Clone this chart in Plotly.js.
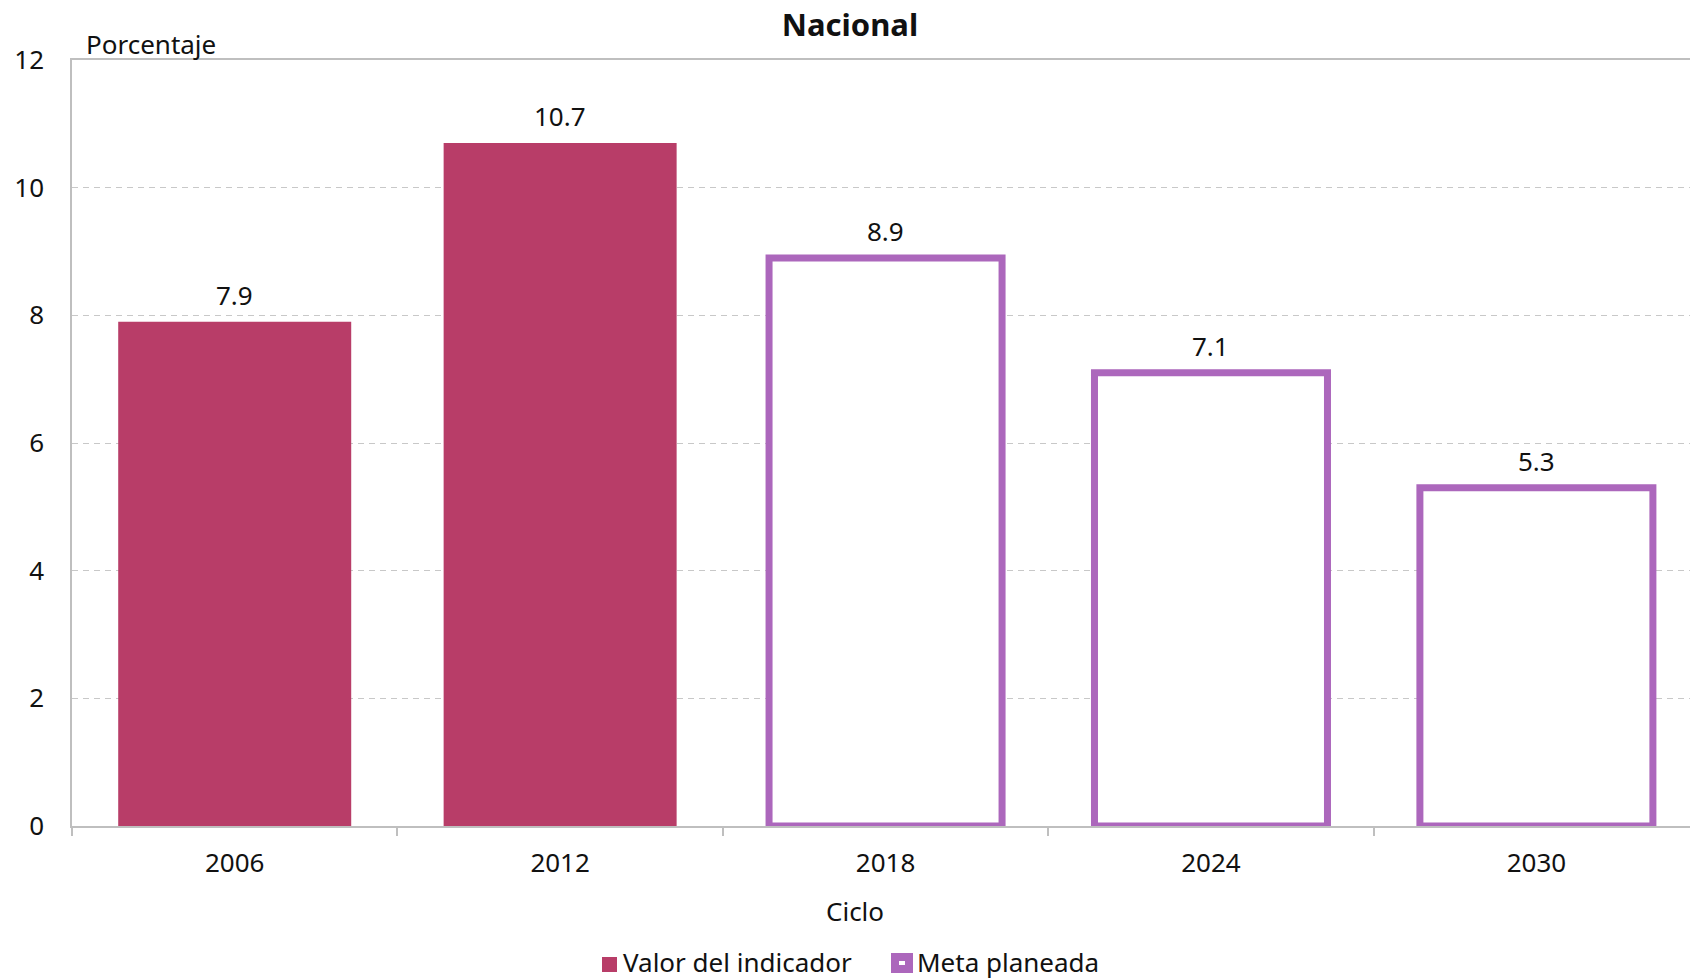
<!DOCTYPE html>
<html>
<head>
<meta charset="utf-8">
<script src="https://cdn.plot.ly/plotly-3.0.1.min.js"></script>
<style>
html,body{margin:0;padding:0;background:#fff;overflow:hidden;}
#chart{width:1690px;height:979px;}
</style>
</head>
<body>
<div id="chart"></div>
<script>
const categories = ['2006', '2012', '2018', '2024', '2030'];
const valorIndicador = [7.9, 10.7, null, null, null];
const metaPlaneada = [null, null, 8.9, 7.1, 5.3];
const yTicks = [0, 2, 4, 6, 8, 10, 12];
const seriesNames = ['Valor del indicador', 'Meta planeada'];

const FONT = 'Noto Sans, Open Sans, sans-serif';
const FS = 26;
const TXT = '#111111';
const colValor = '#B83D68';
const colMeta = '#AC67BC';

// layout geometry (pixels)
const W = 1690, H = 979, ML = 72, MT = 60, MB = 153, MR = 0;
const PW = W - ML - MR, PH = H - MT - MB;
const px = x => (x - ML) / PW;        // pixel x -> paper x
const py = y => (H - MB - y) / PH;    // pixel y -> paper y

const traces = [
  {
    type: 'bar', name: seriesNames[0],
    x: categories, y: valorIndicador,
    width: 0.716,
    marker: {color: colValor, line: {width: 0}},
    hoverinfo: 'x+y'
  },
  {
    type: 'bar', name: seriesNames[1],
    x: categories, y: metaPlaneada,
    width: 0.716,
    marker: {color: '#ffffff', line: {color: colMeta, width: 7}},
    hoverinfo: 'x+y'
  }
];

const annotations = [];
[valorIndicador, metaPlaneada].forEach(arr => {
  arr.forEach((v, i) => {
    if (v === null) return;
    annotations.push({
      x: i, y: v, xref: 'x', yref: 'y',
      text: v.toFixed(1), showarrow: false,
      xanchor: 'center', yanchor: 'middle', yshift: 27,
      font: {family: FONT, size: FS, color: TXT}
    });
  });
});
annotations.push({
  xref: 'paper', yref: 'paper', x: px(84), y: py(44), xanchor: 'left', yanchor: 'middle',
  text: 'Porcentaje', showarrow: false, font: {family: FONT, size: FS, color: TXT}
});
annotations.push({
  xref: 'paper', yref: 'paper', x: px(855), y: py(911), xanchor: 'center', yanchor: 'middle',
  text: 'Ciclo', showarrow: false, font: {family: FONT, size: FS, color: TXT}
});
// legend labels
annotations.push({
  xref: 'paper', yref: 'paper', x: px(621), y: py(962), xanchor: 'left', yanchor: 'middle',
  text: seriesNames[0], showarrow: false, font: {family: FONT, size: FS, color: TXT}
});
annotations.push({
  xref: 'paper', yref: 'paper', x: px(915), y: py(962), xanchor: 'left', yanchor: 'middle',
  text: seriesNames[1], showarrow: false, font: {family: FONT, size: FS, color: TXT}
});

const shapes = [
  {type: 'rect', xref: 'paper', yref: 'paper', x0: px(602), x1: px(617), y0: py(972), y1: py(957),
   fillcolor: colValor, line: {width: 0}},
  {type: 'rect', xref: 'paper', yref: 'paper', x0: px(895), x1: px(909), y0: py(969), y1: py(957),
   fillcolor: '#ffffff', line: {color: colMeta, width: 8}}
];

const layout = {
  width: W, height: H,
  margin: {l: ML, r: MR, t: MT, b: MB},
  paper_bgcolor: '#fff', plot_bgcolor: '#fff',
  font: {family: FONT, size: FS, color: TXT},
  title: {
    text: '<b>Nacional</b>', x: 850 / W, xref: 'container', xanchor: 'center',
    y: 1 - 25 / H, yref: 'container', yanchor: 'middle',
    font: {family: FONT, size: 31, color: TXT}
  },
  barmode: 'overlay',
  showlegend: false,
  xaxis: {
    type: 'category', range: [-0.5, 4.472],
    showline: true, linecolor: '#bfbfbf', linewidth: 1.5, mirror: true,
    ticks: 'outside', tickson: 'boundaries', ticklen: 8, tickcolor: '#bfbfbf', tickwidth: 1.5,
    showgrid: false, zeroline: false,
    tickfont: {family: FONT, size: FS, color: TXT},
    ticklabelstandoff: 13
  },
  yaxis: {
    range: [0, 12], tickvals: yTicks, ticktext: yTicks.map(String),
    showline: true, linecolor: '#bfbfbf', linewidth: 1.5,
    ticks: '', showgrid: true, gridcolor: '#c8c8c8', gridwidth: 1.3, griddash: '6px,5px',
    zeroline: false,
    tickfont: {family: FONT, size: FS, color: TXT},
    ticklabelstandoff: 21
  },
  annotations: annotations,
  shapes: shapes
};

Plotly.newPlot('chart', traces, layout, {displayModeBar: false, responsive: false});
</script>
</body>
</html>
